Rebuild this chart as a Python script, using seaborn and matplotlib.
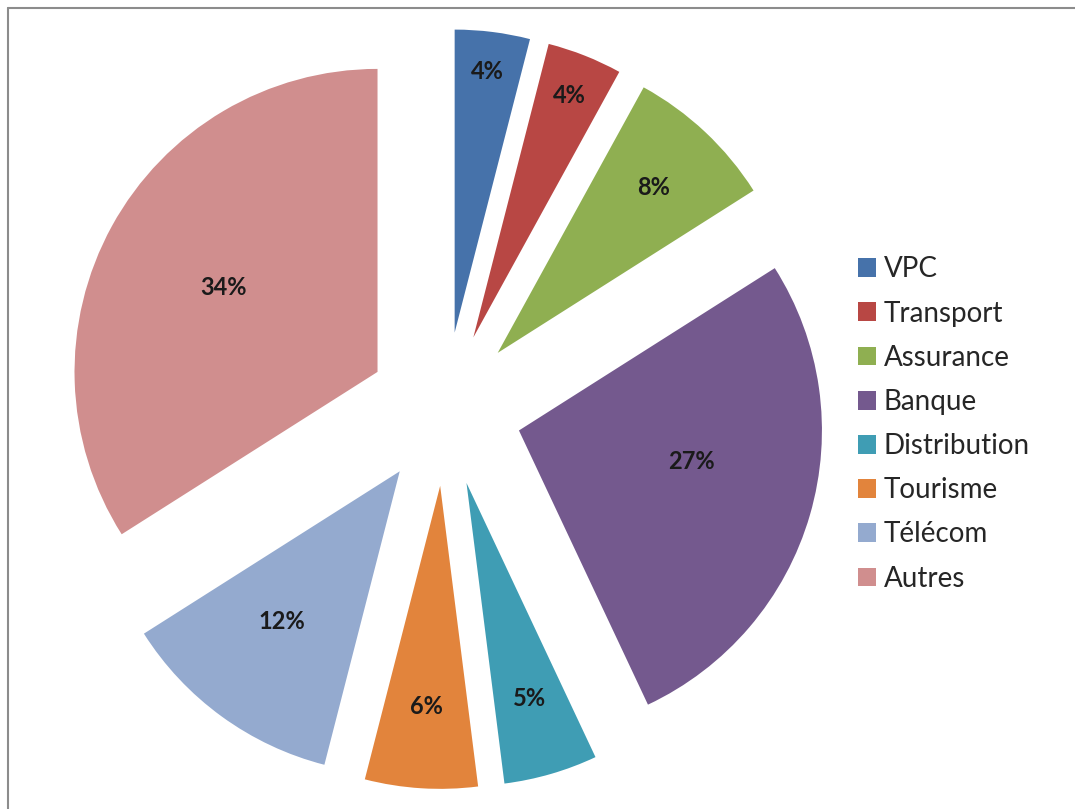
import matplotlib
matplotlib.use("Agg")
import numpy as np
import seaborn as sns
import matplotlib.pyplot as plt
from matplotlib.lines import Line2D

# data
categories = ["VPC", "Transport", "Assurance", "Banque", "Distribution", "Tourisme", "Télécom", "Autres"]
shares = [4, 4, 8, 27, 5, 6, 12, 34]
colors = ["#4672AA", "#B84744", "#8FAF51", "#74598E", "#3F9DB4", "#E2843C", "#94AACF", "#D08E8E"]
# where each % label sits: distance from wedge tip (fraction of radius), angle tweak (deg)
label_dist = [0.87, 0.86, 0.75, 0.58, 0.74, 0.73, 0.63, 0.58]
label_turn = [0, 0, 0, 6, 0, 0, -2, 0]

sns.set_theme(style="white")
plt.rcParams['font.family'] = ['Lato', 'DejaVu Sans']

W, H = 1075, 809
R = 303
fig = plt.figure(figsize=(W / 100, H / 100), dpi=100)
ax = fig.add_axes([0, 0, 1, 1])

palette = sns.color_palette(colors)
wedges, texts, autotexts = ax.pie(
    shares, colors=palette, startangle=90, counterclock=False,
    explode=[77] * len(shares), radius=R, center=(445, H - 409),
    autopct="%d%%", wedgeprops=dict(linewidth=0),
    textprops=dict(fontsize=17, fontweight="bold", color="#1a1a1a"),
)

# reposition the % labels individually
for w, t, d, turn in zip(wedges, autotexts, label_dist, label_turn):
    mid = np.deg2rad((w.theta1 + w.theta2) / 2 + turn)
    cx, cy = w.center
    t.set_position((cx + d * w.r * np.cos(mid), cy + d * w.r * np.sin(mid)))
    t.set_ha("center")
    t.set_va("center")

ax.set_xlim(0, W)
ax.set_ylim(0, H)
ax.axis("off")

ax.legend(wedges, categories, loc="center left",
          bbox_to_anchor=(858 / W, 1 - 424 / H), bbox_transform=fig.transFigure,
          frameon=False, fontsize=20, borderaxespad=0, borderpad=0,
          handlelength=0.66, handleheight=0.66, handletextpad=0.27,
          labelspacing=0.655)

# chart-area border (top and left edges visible)
fig.add_artist(Line2D([8 / W, 1], [1 - 8 / H, 1 - 8 / H], transform=fig.transFigure,
                      color="#8c8c8c", linewidth=1.5))
fig.add_artist(Line2D([8 / W, 8 / W], [0, 1 - 8 / H], transform=fig.transFigure,
                      color="#8c8c8c", linewidth=1.5))

fig.savefig("out.png", dpi=100)
